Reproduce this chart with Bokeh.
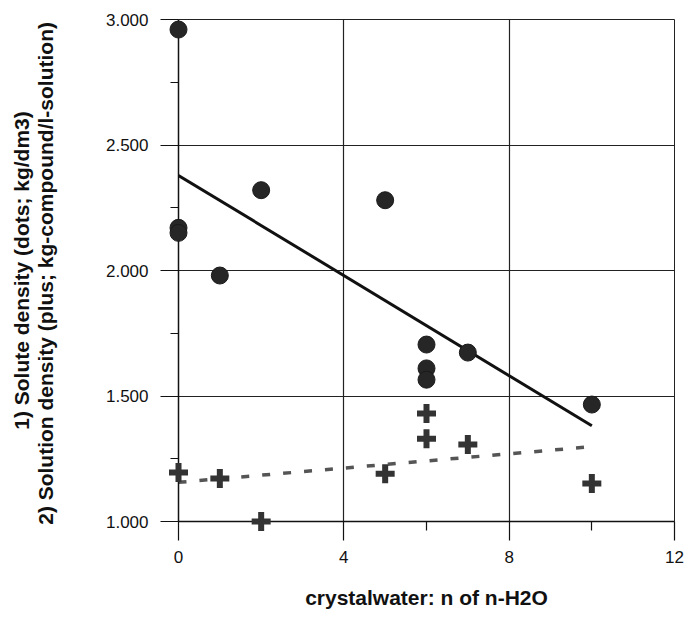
import numpy as np
from bokeh.plotting import figure
from bokeh.models import FixedTicker, NumeralTickFormatter, Range1d
from bokeh.embed import file_html
from bokeh.resources import INLINE

# Solute density (dots)
dot_x = [0, 0, 0, 1, 2, 5, 6, 6, 6, 7, 10]
dot_y = [2.96, 2.17, 2.15, 1.98, 2.32, 2.28, 1.705, 1.61, 1.565, 1.673, 1.466]

# Solution density (plus)
plus_x = [0, 1, 2, 5, 6, 6, 7, 10]
plus_y = [1.195, 1.171, 1.0, 1.19, 1.43, 1.33, 1.307, 1.151]

x_major = [0, 4, 8, 12]
x_minor = [2, 6, 10]
y_major = [1.0, 1.5, 2.0, 2.5, 3.0]
y_minor = [1.25, 1.75, 2.25, 2.75]

x_title = "crystalwater: n of n-H2O"
y_title = "1) Solute density (dots; kg/dm3)\n2) Solution density  (plus; kg-compound/l-solution)"

# linear fits
d_slope, d_int = np.polyfit(dot_x, dot_y, 1)
p_slope, p_int = np.polyfit(plus_x, plus_y, 1)
fit_x = [min(dot_x), max(dot_x)]
fitp_x = [min(plus_x), max(plus_x)]

p = figure(width=686, height=619, output_backend="svg", toolbar_location=None,
           x_range=Range1d(0, 12), y_range=Range1d(1.0, 3.0),
           min_border_left=178, min_border_right=12, min_border_top=19, min_border_bottom=98)
p.background_fill_color = "white"
p.border_fill_color = "white"
p.outline_line_color = "#222222"
p.outline_line_width = 1

FONT = "Liberation Sans"

for ax in (p.xaxis[0], p.yaxis[0]):
    ax.axis_line_color = "#111111"
    ax.axis_line_width = 1.5
    ax.major_tick_line_color = "#111111"
    ax.minor_tick_line_color = "#111111"
    ax.major_tick_line_width = 1.2
    ax.minor_tick_line_width = 1.2
    ax.major_tick_in = 0
    ax.minor_tick_in = 0
    ax.major_label_text_font = FONT
    ax.major_label_text_font_size = "17px"
    ax.major_label_text_color = "#111111"
    ax.axis_label_text_font = FONT
    ax.axis_label_text_font_size = "21px"
    ax.axis_label_text_font_style = "bold"
    ax.axis_label_text_color = "#111111"

p.xaxis.ticker = FixedTicker(ticks=x_major, minor_ticks=x_minor)
p.yaxis.ticker = FixedTicker(ticks=y_major, minor_ticks=y_minor)
p.yaxis.formatter = NumeralTickFormatter(format="0.000")
p.xaxis.major_tick_out = 19
p.xaxis.minor_tick_out = 9
p.yaxis.major_tick_out = 18
p.yaxis.minor_tick_out = 8
p.xaxis.major_label_standoff = 10
p.yaxis.major_label_standoff = 12
p.xaxis.axis_label = x_title
p.yaxis.axis_label = y_title
p.xaxis.axis_label_standoff = 20
p.yaxis.axis_label_standoff = 46
p.yaxis.axis_label_text_line_height = 1.05

p.xgrid.ticker = FixedTicker(ticks=x_major)
p.ygrid.ticker = FixedTicker(ticks=y_major)
for g in (p.xgrid[0], p.ygrid[0]):
    g.grid_line_color = "#222222"
    g.grid_line_width = 1.2

# fit lines
p.line(fit_x, [d_int + d_slope * v for v in fit_x], line_color="#111111", line_width=3)
p.line(fitp_x, [p_int + p_slope * v for v in fitp_x], line_color="#555555",
       line_width=3.5, line_dash="8 13")

# markers
p.scatter(dot_x, dot_y, marker="circle", size=17, fill_color="#262626",
          line_color="#1a1a1a", line_width=1, level="overlay")
p.scatter(plus_x, plus_y, marker="cross", size=19, line_color="#333333",
          line_width=6, level="overlay")

open("out.html", "w").write(file_html(p, INLINE))
